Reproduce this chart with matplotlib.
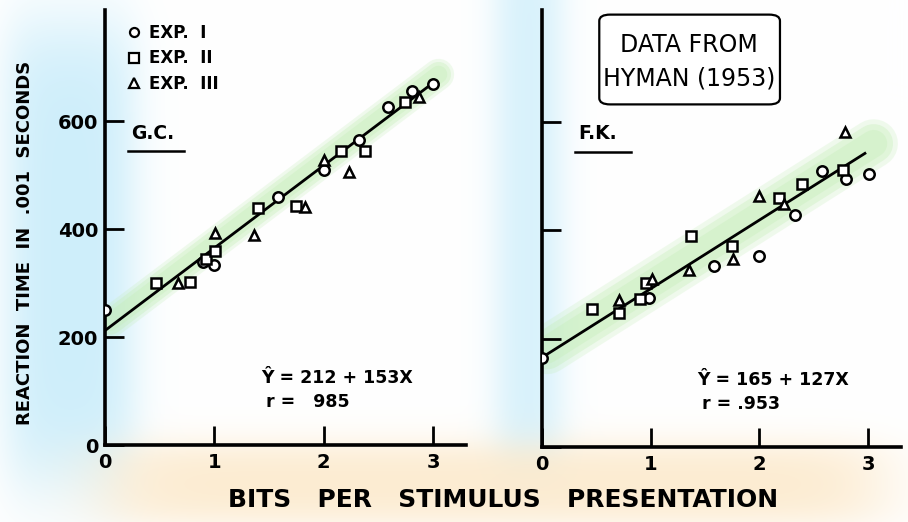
#!/usr/bin/env python3
# -*- coding: utf-8 -*-
"""
Hyman (1953): reaction time vs. bits per stimulus presentation, two subjects.
"""

import matplotlib.pyplot as plt
import numpy as np
from matplotlib.patches import FancyBboxPatch
from matplotlib.lines import Line2D

# subject G.C.
gc_exp1_x = [0.00, 0.90, 1.00, 1.58, 2.00, 2.32, 2.59, 2.81, 3.00]
gc_exp1_y = [250, 340, 333, 459, 510, 565, 627, 656, 668]
gc_exp2_x = [0.47, 0.78, 0.92, 1.01, 1.40, 1.75, 2.16, 2.38, 2.74]
gc_exp2_y = [301, 302, 345, 360, 440, 443, 545, 545, 636]
gc_exp3_x = [0.67, 1.01, 1.36, 1.83, 2.00, 2.23, 2.87]
gc_exp3_y = [301, 392, 389, 441, 529, 506, 645]
gc_fit = (212, 153)
gc_r = "  985"

# subject F.K.
fk_exp1_x = [0.00, 0.99, 1.58, 2.00, 2.33, 2.58, 2.80, 3.01]
fk_exp1_y = [165, 276, 334, 352, 428, 510, 494, 504]
fk_exp2_x = [0.46, 0.71, 0.90, 0.96, 1.37, 1.75, 2.18, 2.39, 2.77]
fk_exp2_y = [254, 248, 273, 302, 390, 371, 459, 485, 512]
fk_exp3_x = [0.71, 1.01, 1.35, 1.76, 2.00, 2.23, 2.79]
fk_exp3_y = [271, 310, 327, 347, 464, 449, 582]
fk_fit = (165, 127)
fk_r = ".953"

exp_labels = ["EXP.  I", "EXP.  II", "EXP.  III"]
markers = ["o", "s", "^"]
yticks = [0, 200, 400, 600]
xticks = [0, 1, 2, 3]


def band(v, lo, hi, soft):
    return 1/(1+np.exp(-(v-lo)/soft)) * 1/(1+np.exp((v-hi)/soft))


def panel(ax, xs, ys, fit, r, name, name_x, ymax, bandw, ylabels=True):
    for x, y, m in zip(xs, ys, markers):
        ax.plot(x, y, m, ms=7.5, mfc='white', mec='black', mew=1.8,
                ls='none', zorder=4)
    fx = np.array([0, 2.97])
    ax.plot(fx, fit[0] + fit[1]*fx, color='black', lw=2, zorder=3)
    # soft green highlighter stroke along the fit
    gx = np.array([0.05, 3.05])
    for w, a in [(bandw*1.25, 0.25), (bandw, 0.35), (bandw*0.7, 0.35)]:
        ax.plot(gx, fit[0] + fit[1]*gx + 8, color='#c4eeb8', lw=w,
                alpha=a, solid_capstyle='round', zorder=1)
    ax.set_xlim(0, 3.3)
    ax.set_ylim(0, ymax)
    ax.set_xticks(xticks)
    ax.set_yticks(yticks)
    ax.tick_params(direction='in', length=14, width=2, labelsize=14, pad=6)
    ax.tick_params(axis='y', pad=5, labelleft=ylabels)
    for lab in ax.get_xticklabels() + ax.get_yticklabels():
        lab.set_fontweight('bold')
    for s in ['top', 'right']:
        ax.spines[s].set_visible(False)
    for s in ['left', 'bottom']:
        ax.spines[s].set_linewidth(2.6)
    ax.set_facecolor('none')
    ax.text(name_x, 578, name, fontsize=13.5, fontweight='bold',
            ha='left', va='center')
    ax.add_line(Line2D([name_x - 0.03, name_x + 0.48], [545, 545],
                       color='black', lw=1.8))
    ax.text(1.43, 124, u"Ŷ = %d + %dX" % fit, fontsize=12.5,
            fontweight='bold', va='center')
    ax.text(1.47, 80, "r = " + r, fontsize=12.5, fontweight='bold',
            va='center')


fig = plt.figure(figsize=(9.08, 5.22), dpi=100)

# hand-coloured highlight strips behind everything
bg = fig.add_axes([0, 0, 1, 1], zorder=-5)
H, W = 522, 908
yy, xx = np.mgrid[0:H, 0:W].astype(float)
blue = np.clip(0.9*band(xx, 8, 132, 12)*band(yy, 25, 480, 25)
               + 0.75*band(xx, 497, 560, 10)*band(yy, -60, 470, 15), 0, 1)
orange = 0.85*band(yy, 445, 522, 10)*band(xx, 105, 880, 25)
img = np.ones((H, W, 3))
cb = np.array([200, 236, 250])/255
co = np.array([252, 232, 200])/255
img = img*(1-blue[..., None]) + cb*blue[..., None]
img = img*(1-orange[..., None]) + co*orange[..., None]
bg.imshow(img, aspect='auto')
bg.axis('off')

ax1 = fig.add_axes([0.1156, 0.1475, 0.3975, 0.8333])
ax2 = fig.add_axes([0.5966, 0.1437, 0.3955, 0.8372])

panel(ax1, [gc_exp1_x, gc_exp2_x, gc_exp3_x],
      [gc_exp1_y, gc_exp2_y, gc_exp3_y], gc_fit, gc_r, "G.C.", 0.24, 806, 18)
panel(ax2, [fk_exp1_x, fk_exp2_x, fk_exp3_x],
      [fk_exp1_y, fk_exp2_y, fk_exp3_y], fk_fit, fk_r, "F.K.", 0.34, 807, 28,
      ylabels=False)

handles = [Line2D([], [], marker=m, ms=6.5, mfc='white', mec='black',
                  mew=1.6, ls='none') for m in markers]
ax1.legend(handles, exp_labels, loc='upper left', bbox_to_anchor=(0.02, 0.995),
           frameon=False, prop={'size': 12, 'weight': 'bold'},
           handletextpad=0.3, labelspacing=0.45, borderaxespad=0.3,
           handlelength=1.2)

fig.text(0.028, 0.535, "REACTION  TIME  IN  .001  SECONDS", rotation=90,
         fontsize=13, fontweight='bold', ha='center', va='center')
fig.text(0.554, 0.043, "BITS   PER   STIMULUS   PRESENTATION",
         fontsize=18, fontweight='bold', ha='center', va='center')

# hand-drawn note box
box = FancyBboxPatch((0.660, 0.80), 0.199, 0.172, transform=fig.transFigure,
                     boxstyle='round,pad=0,rounding_size=0.012',
                     fc='white', ec='black', lw=1.6)
fig.add_artist(box)
fig.text(0.759, 0.913, "DATA FROM", fontsize=17, ha='center', va='center')
fig.text(0.759, 0.849, "HYMAN (1953)", fontsize=17, ha='center', va='center')

plt.savefig('out.png', dpi=100)
plt.close()
